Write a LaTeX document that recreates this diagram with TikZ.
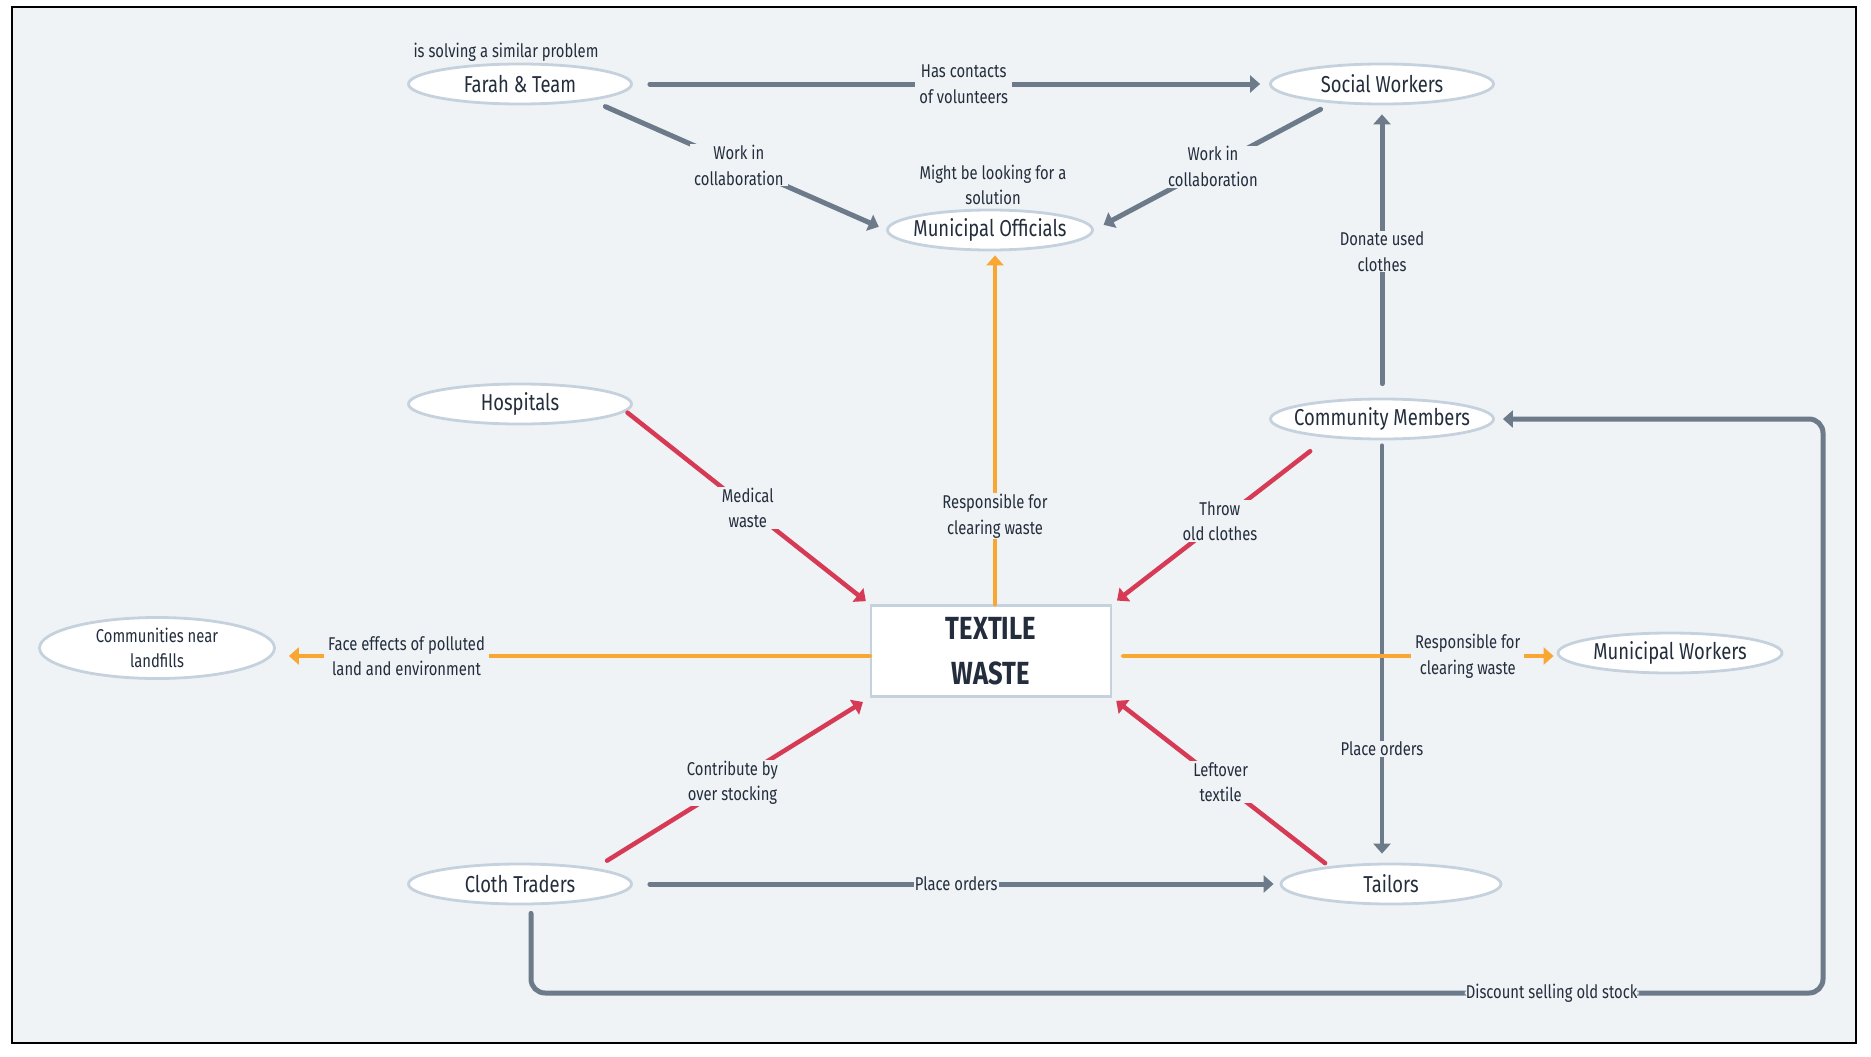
\documentclass[tikz,border=0pt]{standalone}
\usepackage{fontspec}
\setmainfont{Fira Sans}[FakeStretch=0.8]
\usetikzlibrary{arrows.meta,shapes.geometric}

\begin{document}
\begin{tikzpicture}[x=1pt, y=-1pt,
    actor/.style={ellipse, draw=rim, line width=2.8pt, fill=white, text=ink, minimum width=223pt, minimum height=40pt, inner xsep=-20pt, inner ysep=0pt, font=\fontsize{23}{26}\selectfont},
    lbl/.style={fill=bg, text=ink, align=center, inner xsep=4pt, inner ysep=1pt, font=\fontsize{18.5}{25.5}\selectfont},
    link/.style={line width=4.5pt, line cap=round, -{Triangle[length=10pt, width=17pt]}},
    slatelink/.style={link, line width=5pt, draw=slate},
    redlink/.style={link, draw=crim},
    orangelink/.style={link, draw=amber}]
% Define colors
\definecolor{bg}{RGB}{239,243,246}
\definecolor{rim}{RGB}{197,210,222}
\definecolor{ink}{RGB}{35,45,60}
\definecolor{slate}{RGB}{108,122,137}
\definecolor{crim}{RGB}{214,58,85}
\definecolor{amber}{RGB}{250,166,50}

\useasboundingbox (0,0) rectangle (1871,1057);
\fill[bg] (12,7) rectangle (1856,1043);
\draw[black, line width=2.5pt] (12,7) rectangle (1856,1043);

% Actors
\node[actor] (farah) at (520,84) {Farah \& Team};
\node[actor] (social) at (1382,84) {Social Workers};
\node[actor, minimum width=205pt] (officials) at (990,230) {Municipal Officials};
\node[actor] (hospitals) at (520,404) {Hospitals};
\node[actor] (community) at (1382,419) {Community Members};
\node[actor, minimum width=235pt, minimum height=61pt, inner ysep=-4pt, align=center, font=\fontsize{18.5}{25.5}\selectfont] (landfills) at (157,648) {Communities near\\landfills};
\node[actor, minimum width=224pt] (workers) at (1670,653) {Municipal Workers};
\node[actor] (traders) at (520,884) {Cloth Traders};
\node[actor, minimum width=220pt] (tailors) at (1391,884) {Tailors};

% Centre box
\node[draw=rim, line width=2.5pt, fill=white, text=ink, minimum width=240pt, minimum height=91pt, align=center, font=\bfseries\fontsize{32}{45}\selectfont] (textile) at (991,651) {TEXTILE\\WASTE};

% Notes
\node[lbl, fill=none] (farahnote) at (506,52) {is solving a similar problem};
\node[lbl, fill=none] (officialsnote) at (993,185) {Might be looking for a\\solution};

% Grey links
\draw[slatelink, shorten <=17pt, shorten >=9pt] (farah.east) -- node[lbl, pos=0.52] {Has contacts\\of volunteers} (social.west);
\draw[slatelink, shorten <=15pt, shorten >=8pt] (farah.-13) -- node[lbl] {Work in\\collaboration} (officials.west);
\draw[slatelink, shorten <=13pt, shorten >=11pt] (social.-159) -- node[lbl] {Work in\\collaboration} (officials.east);
\draw[slatelink, shorten <=14pt, shorten >=9pt] (community.north) -- node[lbl] {Donate used\\clothes} (social.south);
\draw[slatelink, line width=4pt, shorten <=5pt, shorten >=9pt] (community.south) -- node[lbl, pos=0.73] {Place orders} (community.south |- tailors.north);
\draw[slatelink, shorten <=17pt, shorten >=6pt] (traders.east) -- node[lbl, inner xsep=1pt] {Place orders} (tailors.west);

\coordinate (loopbl) at (531,993);
\coordinate (loopbr) at (1823,993);
\coordinate (looptr) at (1823,419);
\draw[slatelink, rounded corners=14pt, shorten <=8pt, shorten >=8pt] (traders.south -| loopbl) -- (loopbl) -- node[lbl, inner xsep=1pt, pos=0.79] {Discount selling old stock} (loopbr) -- (looptr) -- (community.east);

% Red links
\draw[redlink, shorten <=2pt, shorten >=5pt] (hospitals.-4) -- node[lbl] {Medical\\waste} (textile.north west);
\draw[redlink, shorten <=22pt, shorten >=6pt] (community.-161) -- node[lbl] {Throw\\old clothes} (textile.north east);
\draw[redlink, shorten <=5pt, shorten >=5pt] (tailors.164) -- node[lbl] {Leftover\\textile} (textile.south east);
\draw[redlink, shorten <=14pt, shorten >=8pt] (traders.12) -- node[lbl] {Contribute by\\over stocking} (textile.south west);

% Orange links
\draw[orangelink, shorten >=4pt] ([xshift=4pt]textile.north) -- node[lbl, pos=0.25] {Responsible for\\clearing waste} ([xshift=4pt]textile.north |- officials.south);
\draw[orangelink, shorten >=13pt] ([yshift=-5pt]textile.west) -- node[lbl, pos=0.78] {Face effects of polluted\\land and environment} ([yshift=-5pt]textile.west -| landfills.east);
\draw[orangelink, shorten <=11pt, shorten >=3pt] ([yshift=-5pt]textile.east) -- node[lbl, pos=0.80] {Responsible for\\clearing waste} ([yshift=-5pt]textile.east -| workers.west);
\end{tikzpicture}
\end{document}
